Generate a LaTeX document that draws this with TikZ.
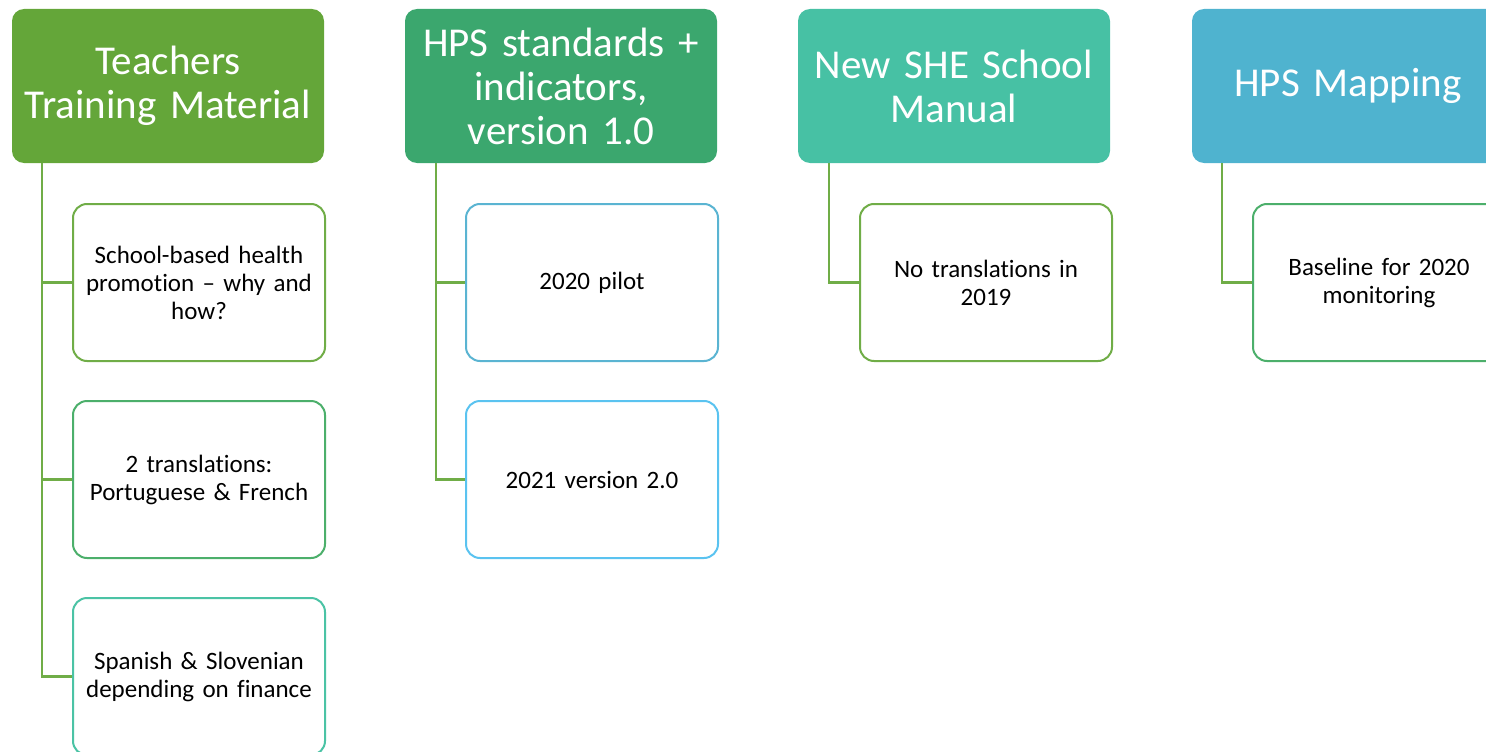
\documentclass[tikz,border=0pt]{standalone}
\usepackage{fontspec}
\setmainfont{Carlito}[Ligatures=NoCommon]
\definecolor{hA}{RGB}{100,166,57}
\definecolor{hB}{RGB}{59,167,110}
\definecolor{hC}{RGB}{71,193,164}
\definecolor{hD}{RGB}{79,179,207}
\definecolor{bGreen}{RGB}{112,173,71}
\definecolor{bGreenTeal}{RGB}{76,175,107}
\definecolor{bTeal}{RGB}{75,195,165}
\definecolor{bBlueTeal}{RGB}{90,180,210}
\definecolor{bBlue}{RGB}{90,195,240}
\definecolor{connc}{RGB}{112,173,71}
\tikzset{
  head/.style={rectangle, rounded corners=12pt, fill=#1, draw=none,
    minimum width=312pt, minimum height=154pt, text width=304pt, align=center,
    text=white, font=\fontsize{41}{44}\selectfont, inner sep=0pt},
  child/.style={rectangle, rounded corners=14pt, fill=white, draw=#1, line width=2pt,
    minimum width=252pt, minimum height=157pt, text width=240pt, align=center,
    text=black, font=\fontsize{25}{28}\selectfont, inner sep=0pt},
  conn/.style={draw=connc, line width=2.2pt}
}
\begin{document}
\begin{tikzpicture}[x=1pt,y=1pt]
\useasboundingbox (0,0) rectangle (1486,-752);
\clip (0,0) rectangle (1486,-752);
% headings
\node[head=hA] (t1) at (168,-86) {Teachers\\Training Material};
\node[head=hB] (t2) at (561,-86) {HPS standards +\\indicators,\\version 1.0};
\node[head=hC] (t3) at (954,-86) {New SHE School\\Manual};
\node[head=hD] (t4) at (1348,-86) {HPS Mapping};
% children
\node[child=bGreen] (c11) at (199,-282.5) {School-based health\\promotion -- why and\\how?};
\node[child=bGreenTeal] (c12) at (199,-479.5) {2 translations:\\Portuguese \& French};
\node[child=bTeal] (c13) at (199,-676.5) {Spanish \& Slovenian\\depending on finance};
\node[child=bBlueTeal] (c21) at (592,-282.5) {2020 pilot};
\node[child=bBlue] (c22) at (592,-479.5) {2021 version 2.0};
\node[child=bGreen] (c31) at (986,-282.5) {No translations in\\2019};
\node[child=bGreenTeal] (c41) at (1379,-282.5) {Baseline for 2020\\monitoring};
% connectors
\draw[conn] ([xshift=30pt]t1.south west) |- (c11.west);
\draw[conn] ([xshift=30pt]t1.south west) |- (c12.west);
\draw[conn] ([xshift=30pt]t1.south west) |- (c13.west);
\draw[conn] ([xshift=31pt]t2.south west) |- (c21.west);
\draw[conn] ([xshift=31pt]t2.south west) |- (c22.west);
\draw[conn] ([xshift=31pt]t3.south west) |- (c31.west);
\draw[conn] ([xshift=30pt]t4.south west) |- (c41.west);
\end{tikzpicture}
\end{document}
